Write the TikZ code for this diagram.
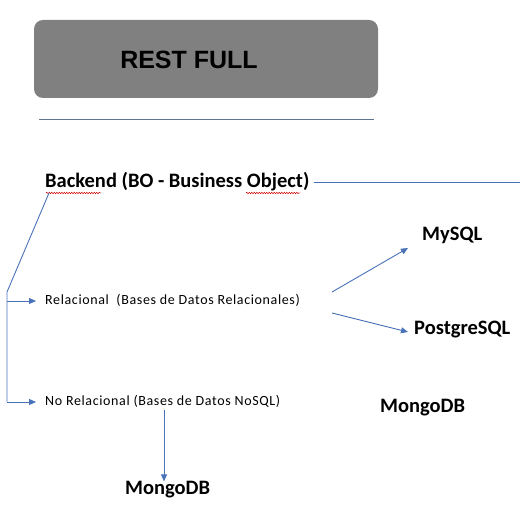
\documentclass[tikz,border=0pt]{standalone}
\usepackage{fontspec}
\setmainfont{Carlito}
\newfontfamily\arialfont{Liberation Sans}
\newfontfamily\spacedfont[LetterSpace=4.5]{Carlito}
\usetikzlibrary{arrows.meta,decorations.pathmorphing}
\definecolor{lineblue}{HTML}{4A72B8}
\definecolor{rulegray}{HTML}{5E7490}
\definecolor{boxgray}{HTML}{808080}
\tikzset{
  conn/.style={draw=lineblue, line width=0.9pt},
  arr/.style={conn, -{Triangle[length=7pt,width=6pt]}},
  big/.style={inner sep=0pt, anchor=west, font=\fontsize{20.5}{24}\selectfont\bfseries},
  small/.style={inner sep=0pt, anchor=west, font=\spacedfont\fontsize{14}{16}\selectfont, text=black},
  squig/.style={draw=red!80!black, line width=0.5pt, decorate, decoration={snake, amplitude=0.7pt, segment length=2.5pt}}
}
\begin{document}
\begin{tikzpicture}[x=1pt,y=-1pt]
\useasboundingbox (0,0) rectangle (520,518);
% title box
\node[fill=boxgray, rounded corners=9pt, minimum width=344pt, minimum height=78pt, inner sep=0pt] (box) at (206,59) {};
\node[inner sep=0pt, font=\arialfont\fontsize{25}{28}\selectfont\bfseries] (title) at (189,60) {REST FULL};
\coordinate (r1) at (39,119);
\coordinate (r2) at (374,119);
\draw[draw=rulegray, line width=0.8pt] (r1) -- (r2);
% backend
\node[big] (backend) at (45,182) {Backend (BO - Business Object)};
\coordinate (bend) at (520,182);
\draw[conn] (backend.east) ++(4,0) coordinate (bstart) -- (bend);
\coordinate (sq1a) at (46,193); \coordinate (sq1b) at (101,193);
\coordinate (sq2a) at (246,193); \coordinate (sq2b) at (300,193);
\draw[squig] (sq1a) -- (sq1b);
\draw[squig] (sq2a) -- (sq2b);
\coordinate (d0) at (49,193);
\coordinate (d1) at (7,292);
\coordinate (d2) at (7,402);
\coordinate (j1) at (7,301);
\draw[conn] (d0) -- (d1) -- (d2);
% relational
\node[small] (rel) at (45,300) {Relacional \ (Bases de Datos Relacionales)};
\node[small] (norel) at (45,401) {No Relacional (Bases de Datos NoSQL)};
\draw[arr] (j1) -- ([xshift=-9pt]rel.west |- j1);
\draw[arr] (d2) -- ([xshift=-9pt]norel.west |- d2);
% databases
\node[big] (mysql) at (422,235) {MySQL};
\node[big] (pg) at (414,330) {PostgreSQL};
\node[big] (mongo1) at (380,408) {MongoDB};
\node[big] (mongo2) at (125,490) {MongoDB};
\coordinate (a1) at (332,292);
\coordinate (a2) at (332,313);
\draw[arr] (a1) -- (408,248) coordinate (a1e);
\draw[arr] (a2) -- (408,332) coordinate (a2e);
\coordinate (m0) at (164,410);
\draw[arr] (m0) -- (mongo2.north -| m0);
\end{tikzpicture}
\end{document}
